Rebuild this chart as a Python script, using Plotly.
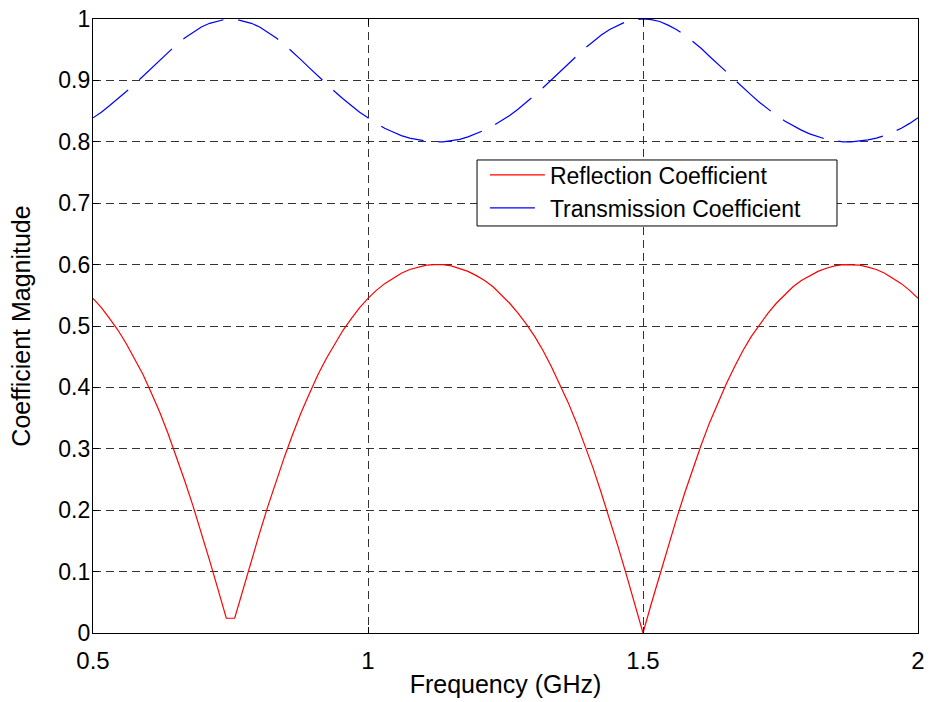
import plotly.graph_objects as go

# Frequency sweep (GHz), 100 samples
freq_ghz = [
    0.5, 0.5152, 0.5303, 0.5455, 0.5606, 0.5758, 0.5909, 0.6061, 0.6212, 0.6364,
    0.6515, 0.6667, 0.6818, 0.6970, 0.7121, 0.7273, 0.7424, 0.7576, 0.7727, 0.7879,
    0.8030, 0.8182, 0.8333, 0.8485, 0.8636, 0.8788, 0.8939, 0.9091, 0.9242, 0.9394,
    0.9545, 0.9697, 0.9848, 1.0, 1.0152, 1.0303, 1.0455, 1.0606, 1.0758, 1.0909,
    1.1061, 1.1212, 1.1364, 1.1515, 1.1667, 1.1818, 1.1970, 1.2121, 1.2273, 1.2424,
    1.2576, 1.2727, 1.2879, 1.3030, 1.3182, 1.3333, 1.3485, 1.3636, 1.3788, 1.3939,
    1.4091, 1.4242, 1.4394, 1.4545, 1.4697, 1.4848, 1.5, 1.5152, 1.5303, 1.5455,
    1.5606, 1.5758, 1.5909, 1.6061, 1.6212, 1.6364, 1.6515, 1.6667, 1.6818, 1.6970,
    1.7121, 1.7273, 1.7424, 1.7576, 1.7727, 1.7879, 1.8030, 1.8182, 1.8333, 1.8485,
    1.8636, 1.8788, 1.8939, 1.9091, 1.9242, 1.9394, 1.9545, 1.9697, 1.9848, 2.0,
]

reflection = [
    0.545, 0.530, 0.512, 0.493, 0.471, 0.447, 0.421, 0.391, 0.360, 0.325,
    0.288, 0.248, 0.207, 0.163, 0.118, 0.071, 0.024, 0.024, 0.071, 0.118,
    0.163, 0.207, 0.248, 0.288, 0.325, 0.360, 0.391, 0.421, 0.447, 0.471,
    0.493, 0.512, 0.530, 0.545, 0.558, 0.569, 0.578, 0.586, 0.592, 0.596,
    0.599, 0.600, 0.600, 0.598, 0.594, 0.589, 0.582, 0.574, 0.564, 0.551,
    0.537, 0.521, 0.503, 0.483, 0.460, 0.434, 0.406, 0.376, 0.343, 0.307,
    0.269, 0.228, 0.185, 0.141, 0.095, 0.048, 0.000, 0.048, 0.095, 0.141,
    0.185, 0.228, 0.269, 0.307, 0.343, 0.376, 0.406, 0.434, 0.460, 0.483,
    0.503, 0.521, 0.537, 0.551, 0.564, 0.574, 0.582, 0.589, 0.594, 0.598,
    0.600, 0.600, 0.599, 0.596, 0.592, 0.586, 0.578, 0.569, 0.558, 0.545,
]

transmission = [
    0.839, 0.848, 0.859, 0.870, 0.882, 0.894, 0.907, 0.920, 0.933, 0.946,
    0.958, 0.969, 0.978, 0.987, 0.993, 0.997, 1.000, 1.000, 0.997, 0.993,
    0.987, 0.978, 0.969, 0.958, 0.946, 0.933, 0.920, 0.907, 0.894, 0.882,
    0.870, 0.859, 0.848, 0.839, 0.830, 0.822, 0.816, 0.810, 0.806, 0.803,
    0.801, 0.800, 0.800, 0.802, 0.804, 0.808, 0.813, 0.819, 0.826, 0.834,
    0.843, 0.853, 0.864, 0.876, 0.888, 0.901, 0.914, 0.927, 0.939, 0.952,
    0.963, 0.974, 0.983, 0.990, 0.996, 0.999, 1.000, 0.999, 0.996, 0.990,
    0.983, 0.974, 0.963, 0.952, 0.939, 0.927, 0.914, 0.901, 0.888, 0.876,
    0.864, 0.853, 0.843, 0.834, 0.826, 0.819, 0.813, 0.808, 0.804, 0.802,
    0.800, 0.800, 0.801, 0.803, 0.806, 0.810, 0.816, 0.822, 0.830, 0.839,
]

series_names = ["Reflection Coefficient", "Transmission Coefficient"]
x_title = "Frequency (GHz)"
y_title = "Coefficient Magnitude"

FONT = "Liberation Sans, Arial, sans-serif"

fig = go.Figure()
fig.add_trace(go.Scatter(
    x=freq_ghz, y=reflection, mode="lines", name=series_names[0],
    line=dict(color="#ff0000", width=1.2),
))
fig.add_trace(go.Scatter(
    x=freq_ghz, y=transmission, mode="lines", name=series_names[1],
    line=dict(color="#0000ff", width=1.2, dash="45px,15px"),
))

axis_common = dict(
    showline=True, linecolor="black", linewidth=1.2, mirror="ticks",
    ticks="inside", ticklen=6, tickcolor="black", tickwidth=1,
    showgrid=True, gridcolor="#333333", gridwidth=1, griddash="8px,5px",
    zeroline=False,
)

fig.update_xaxes(
    range=[0.5, 2], tickmode="linear", tick0=0.5, dtick=0.5,
    ticklabelstandoff=6,
    tickfont=dict(family=FONT, size=24, color="black"),
    title=dict(text=x_title, font=dict(family=FONT, size=25, color="black"), standoff=2),
    **axis_common,
)
fig.update_yaxes(
    range=[0, 1], tickmode="linear", tick0=0, dtick=0.1,
    ticklabelstandoff=-3,
    tickfont=dict(family=FONT, size=23, color="black"),
    title=dict(text=y_title, font=dict(family=FONT, size=25, color="black"), standoff=20),
    **axis_common,
)

# legend frame (white box with black border, like the reference)
fig.add_shape(
    type="rect", xref="paper", yref="paper",
    x0=0.4655, x1=0.9018, y0=0.6629, y1=0.7704,
    line=dict(color="black", width=1), fillcolor="white", layer="above",
)

fig.update_layout(
    width=933, height=702,
    margin=dict(l=93, r=15, t=19, b=69, autoexpand=False),
    paper_bgcolor="white", plot_bgcolor="white",
    font=dict(family=FONT, color="black"),
    legend=dict(
        x=0.475, y=0.781, xanchor="left", yanchor="top",
        bgcolor="rgba(0,0,0,0)", borderwidth=0,
        font=dict(family=FONT, size=23, color="black"),
        tracegroupgap=0, itemwidth=55,
    ),
)

fig.write_html("out.html")
